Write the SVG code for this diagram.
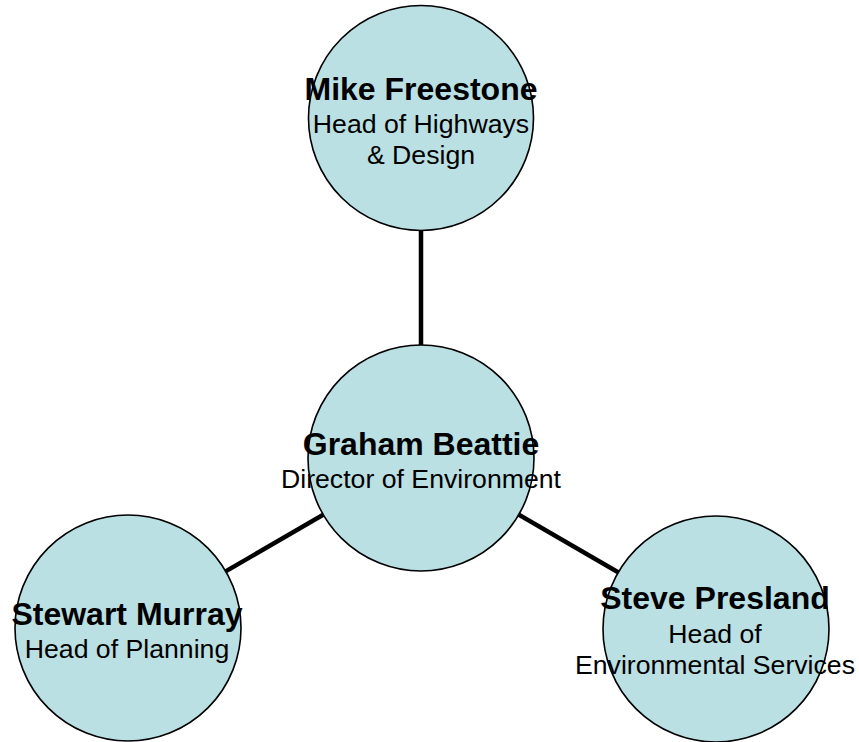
<svg xmlns="http://www.w3.org/2000/svg" width="859" height="742" viewBox="0 0 859 742">
<style>
.node{fill:#BAE0E3;stroke:#000;stroke-width:1.6}
.conn{stroke:#000;stroke-width:4.5;fill:none}
.name{font-family:"Liberation Sans",Arial,sans-serif;font-weight:bold;font-size:32px;fill:#000;text-anchor:middle}
.role{font-family:"Liberation Sans",Arial,sans-serif;font-size:26.67px;fill:#000;text-anchor:middle}
</style>
<rect width="859" height="742" fill="#fff"/>
<g id="connectors">
<line class="conn" x1="421" y1="118" x2="421" y2="458"/>
<line class="conn" x1="421" y1="458" x2="128" y2="628"/>
<line class="conn" x1="421" y1="458" x2="716" y2="629"/>
</g>
<g id="mike-freestone">
<circle class="node" cx="421" cy="118" r="112.5"/>
<text class="name" x="421" y="100">Mike Freestone</text>
<text class="role" x="421" y="133">Head of Highways</text>
<text class="role" x="421" y="164">&amp; Design</text>
</g>
<g id="graham-beattie">
<circle class="node" cx="421" cy="458" r="113"/>
<text class="name" x="421" y="455">Graham Beattie</text>
<text class="role" x="421" y="488">Director of Environment</text>
</g>
<g id="stewart-murray">
<circle class="node" cx="128" cy="628" r="113"/>
<text class="name" x="127" y="625">Stewart Murray</text>
<text class="role" x="127" y="658">Head of Planning</text>
</g>
<g id="steve-presland">
<circle class="node" cx="716" cy="629" r="113"/>
<text class="name" x="715" y="609">Steve Presland</text>
<text class="role" x="715" y="643">Head of</text>
<text class="role" x="715" y="674">Environmental Services</text>
</g>
</svg>
